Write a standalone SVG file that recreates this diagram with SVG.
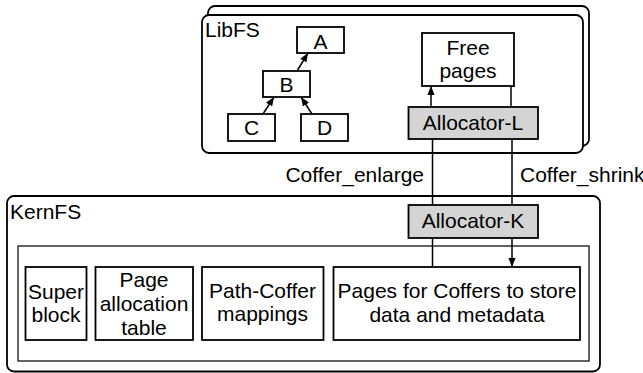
<svg xmlns="http://www.w3.org/2000/svg" width="643" height="373" viewBox="0 0 643 373">
  <style>
    .frame { fill: #ffffff; stroke: #000000; stroke-width: 1.8; }
    .inner { fill: #ffffff; stroke: #222222; stroke-width: 1.4; }
    .box { fill: #ffffff; stroke: #000000; stroke-width: 1.8; }
    .alloc { fill: #d4d4d4; stroke: #000000; stroke-width: 1.8; }
    .link { fill: none; stroke: #000000; stroke-width: 1.5; }
    text { font-family: "Liberation Sans", Arial, Helvetica, sans-serif; font-size: 21px; fill: #000000; }
    .c { text-anchor: middle; }
  </style>
  <defs>
    <marker id="head" viewBox="0 0 10 8" refX="10" refY="4" markerWidth="9" markerHeight="7.2" markerUnits="userSpaceOnUse" orient="auto">
      <path d="M0,0 L10,4 L0,8 z" fill="#000000"/>
    </marker>
  </defs>

  <!-- LibFS: stacked instances -->
  <g id="libfs">
    <rect class="frame" x="208" y="6" width="381" height="140" rx="7"/>
    <rect class="frame" x="202" y="15" width="381" height="138" rx="7"/>
    <text x="205" y="36.5">LibFS</text>
  </g>

  <!-- KernFS outer region and storage area -->
  <g id="kernfs">
    <rect class="frame" x="7" y="196" width="593" height="175.5" rx="7"/>
    <text x="10" y="219">KernFS</text>
    <rect class="inner" x="18" y="246" width="571" height="115"/>
  </g>

  <!-- Tree inside LibFS -->
  <g id="node-a">
    <rect class="box" x="297" y="27" width="47" height="26"/>
    <text class="c" x="320.5" y="49">A</text>
  </g>
  <g id="node-b">
    <rect class="box" x="263" y="71" width="47" height="26"/>
    <text class="c" x="286.5" y="92">B</text>
  </g>
  <g id="node-c">
    <rect class="box" x="228" y="114" width="47" height="27"/>
    <text class="c" x="251.5" y="135">C</text>
  </g>
  <g id="node-d">
    <rect class="box" x="301" y="114" width="47" height="27"/>
    <text class="c" x="324.5" y="135">D</text>
  </g>

  <g id="free-pages">
    <rect class="box" x="422" y="33" width="92" height="53"/>
    <text class="c" x="468" y="55">Free</text>
    <text class="c" x="468" y="78">pages</text>
  </g>

  <g id="allocator-l">
    <rect class="alloc" x="408.5" y="107" width="129.5" height="32"/>
    <text class="c" x="473" y="130">Allocator-L</text>
  </g>

  <g id="allocator-k">
    <rect class="alloc" x="408.5" y="205" width="129.5" height="33"/>
    <text class="c" x="473" y="228">Allocator-K</text>
  </g>

  <g id="super-block">
    <rect class="box" x="25.5" y="267" width="61" height="73"/>
    <text class="c" x="56" y="299">Super</text>
    <text class="c" x="56" y="322">block</text>
  </g>

  <g id="page-table">
    <rect class="box" x="95.5" y="267" width="97.5" height="73"/>
    <text class="c" x="144" y="287">Page</text>
    <text class="c" x="144" y="311">allocation</text>
    <text class="c" x="144" y="335">table</text>
  </g>

  <g id="path-coffer">
    <rect class="box" x="202" y="267" width="121.5" height="73"/>
    <text class="c" x="262.5" y="297.5">Path-Coffer</text>
    <text class="c" x="262.5" y="321">mappings</text>
  </g>

  <g id="coffer-pages">
    <rect class="box" x="333.5" y="267" width="246.5" height="73"/>
    <text class="c" x="457" y="298">Pages for Coffers to store</text>
    <text class="c" x="457" y="322">data and metadata</text>
  </g>

  <!-- Connectors -->
  <g id="connectors">
    <line class="link" x1="263" y1="114" x2="274" y2="97" marker-end="url(#head)"/>
    <line class="link" x1="312" y1="114" x2="301" y2="97" marker-end="url(#head)"/>
    <line class="link" x1="297" y1="71" x2="308" y2="53" marker-end="url(#head)"/>
    <line class="link" x1="431" y1="107" x2="431" y2="86" marker-end="url(#head)"/>
    <line class="link" x1="511" y1="86" x2="511" y2="107"/>
    <line class="link" x1="432.5" y1="139" x2="432.5" y2="205"/>
    <line class="link" x1="512" y1="139" x2="512" y2="205"/>
    <line class="link" x1="432.5" y1="238" x2="432.5" y2="267"/>
    <line class="link" x1="512" y1="238" x2="512" y2="267" marker-end="url(#head)"/>
    <text x="424" y="182" text-anchor="end">Coffer_enlarge</text>
    <text x="520" y="182">Coffer_shrink</text>
  </g>
</svg>
